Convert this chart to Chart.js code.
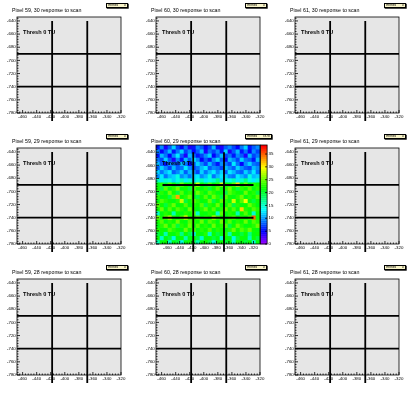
<!DOCTYPE html>
<html>
<head>
<meta charset="utf-8">
<script src="https://cdn.jsdelivr.net/npm/chart.js@4.4.0/dist/chart.umd.min.js"></script>
<style>
body { margin: 0; background: #fff; width: 418px; height: 393px; overflow: hidden; font-family: "Liberation Sans", Arial, sans-serif; }
.pad { position: absolute; width: 139px; height: 131px; }
.pad canvas { position: absolute; left: 0; top: 0; }
.ttl { position: absolute; left: 12px; top: 7px; font-size: 5.3px; white-space: nowrap; color: #000; }
.stat { position: absolute; left: 106px; top: 3px; width: 22px; height: 4.5px; border: 0.7px solid #000; background: #f8f4c8; font-size: 3.2px; line-height: 3.6px; display: flex; justify-content: space-between; padding: 0 1.2px; box-sizing: border-box; box-shadow: 0.7px 0.7px 0 #000; color: #000; }
.thr { position: absolute; left: 23px; top: 29px; font-size: 5.6px; font-weight: bold; white-space: nowrap; color: #000; }
</style>
</head>
<body>
<script>
let padnames = [["Pixel 59, 30", "Pixel 60, 30", "Pixel 61, 30"],
                ["Pixel 59, 29", "Pixel 60, 29", "Pixel 61, 29"],
                ["Pixel 59, 28", "Pixel 60, 28", "Pixel 61, 28"]]
let entries = [[0, 0, 0], [0, 7878, 0], [0, 0, 0]]
let xticks = [-460, -440, -420, -400, -380, -360, -340, -320]
let yticks = [-640, -660, -680, -700, -720, -740, -760, -780]
let zticks = [0, 5, 10, 15, 20, 25, 30, 35]
let xrange = [-468, -320]
let yrange = [-780, -634]
let yrangeheat = [-780, -629]
let zmax = 38.5
let cutx = [-418, -368]
let cuty = [-690, -740]
let cuttop = -640
let cutbottom = -792

// Pixel 60, 29 response, rows from top (-629) to bottom (-780), 26 columns left to right
let heat = [
  [6, 10, 4, 8, 12, 7, 5, 9, 4, 6, 10, 8, 5, 7, 11, 6, 4, 8, 10, 7, 5, 9, 12, 6, 8, 10],
  [10, 5, 8, 11, 6, 9, 12, 7, 10, 5, 8, 11, 4, 9, 7, 10, 6, 12, 4, 8, 11, 6, 9, 5, 10, 7],
  [6, 11, 9, 5, 10, 13, 8, 4, 11, 9, 6, 7, 10, 12, 5, 8, 11, 7, 9, 6, 10, 8, 4, 11, 7, 9],
  [9, 7, 12, 8, 4, 10, 6, 11, 8, 13, 10, 5, 8, 6, 10, 12, 8, 5, 11, 10, 7, 12, 9, 8, 6, 11],
  [11, 8, 6, 10, 9, 7, 11, 9, 5, 8, 12, 10, 7, 11, 8, 6, 10, 9, 7, 13, 9, 5, 10, 12, 9, 8],
  [8, 12, 10, 7, 11, 8, 9, 13, 10, 7, 9, 11, 13, 8, 10, 9, 7, 11, 10, 8, 12, 10, 8, 7, 11, 10],
  [12, 9, 11, 13, 8, 10, 12, 8, 11, 10, 7, 12, 9, 11, 13, 10, 12, 8, 13, 11, 9, 8, 12, 10, 13, 9],
  [10, 13, 9, 11, 12, 14, 10, 11, 9, 12, 13, 10, 11, 14, 9, 11, 13, 12, 10, 9, 13, 11, 10, 14, 11, 12],
  [16, 13, 15, 14, 12, 14, 16, 13, 15, 12, 14, 16, 13, 14, 15, 17, 12, 15, 14, 16, 13, 15, 17, 14, 13, 15],
  [21, 23, 20, 24, 22, 19, 25, 22, 21, 23, 28, 22, 20, 24, 21, 23, 28, 22, 21, 24, 31, 22, 25, 21, 23, 22],
  [22, 20, 24, 21, 23, 25, 21, 22, 20, 24, 22, 21, 23, 20, 22, 24, 21, 23, 25, 22, 20, 23, 22, 24, 21, 23],
  [20, 23, 21, 25, 22, 20, 24, 21, 23, 22, 25, 23, 21, 24, 23, 21, 22, 20, 24, 23, 22, 21, 25, 22, 23, 20],
  [23, 21, 22, 20, 24, 33, 22, 23, 25, 21, 20, 22, 24, 21, 25, 23, 20, 24, 22, 21, 23, 25, 21, 23, 22, 24],
  [21, 24, 23, 22, 21, 23, 28, 20, 22, 24, 23, 21, 22, 25, 20, 22, 24, 23, 21, 28, 22, 24, 30, 21, 20, 22],
  [24, 22, 20, 23, 25, 21, 22, 24, 21, 23, 22, 24, 20, 23, 22, 25, 21, 22, 24, 20, 23, 21, 22, 25, 23, 21],
  [22, 25, 21, 24, 22, 24, 23, 21, 25, 22, 21, 23, 25, 22, 24, 21, 23, 25, 22, 24, 21, 31, 23, 22, 24, 23],
  [15, 21, 23, 22, 16, 22, 21, 23, 22, 24, 15, 22, 21, 23, 22, 15, 24, 21, 23, 22, 16, 22, 24, 21, 15, 22],
  [25, 22, 24, 28, 23, 21, 24, 30, 23, 22, 24, 21, 23, 22, 28, 24, 22, 21, 23, 24, 22, 23, 21, 24, 35, 22],
  [22, 24, 21, 23, 22, 25, 22, 21, 24, 23, 22, 25, 21, 24, 23, 21, 25, 22, 24, 21, 23, 22, 25, 21, 24, 23],
  [21, 23, 25, 22, 24, 20, 23, 22, 25, 21, 24, 22, 23, 21, 25, 22, 23, 24, 20, 22, 25, 23, 21, 22, 23, 25],
  [23, 22, 21, 24, 23, 22, 21, 25, 22, 24, 21, 23, 22, 24, 21, 23, 22, 21, 23, 25, 22, 24, 23, 25, 22, 21],
  [20, 21, 16, 22, 21, 23, 17, 22, 20, 14, 22, 21, 23, 15, 22, 20, 21, 23, 16, 22, 21, 20, 22, 17, 21, 22],
  [22, 15, 21, 20, 14, 21, 22, 16, 21, 22, 20, 15, 21, 22, 20, 21, 15, 22, 21, 14, 20, 22, 21, 16, 22, 20],
  [16, 21, 22, 15, 21, 20, 14, 21, 22, 20, 16, 21, 22, 20, 14, 21, 22, 20, 21, 15, 22, 21, 20, 22, 15, 21]
]

function palcolor(v) {
    if (v <= 0) return "rgba(0,0,0,0)"
    let idx = Math.min(49, Math.floor(v / zmax * 50))
    let hue = 280 - (idx + 1) * 5.6
    return "hsl(" + hue + ",100%,50%)"
}

let tickfont = { family: "'Liberation Sans', Arial, sans-serif", size: 4.4 }

let frameplugin = {
    id: "frame",
    beforeDraw(chart) {
        let a = chart.chartArea, c = chart.ctx
        c.save()
        c.fillStyle = "#e6e6e6"
        c.fillRect(a.left, a.top, a.right - a.left, a.bottom - a.top)
        c.restore()
    },
    afterDraw(chart) {
        let a = chart.chartArea, c = chart.ctx
        let sx = chart.scales.x, sy = chart.scales.y
        c.save()
        c.strokeStyle = "#000"
        c.lineWidth = 0.8
        c.strokeRect(a.left, a.top, a.right - a.left, a.bottom - a.top)
        c.beginPath()
        // ticks drawn inside the frame, 5 subdivisions
        for (let i = 0; i < xticks.length; i++) {
            let px = sx.getPixelForValue(xticks[i])
            c.moveTo(px, a.bottom); c.lineTo(px, a.bottom - 3)
            for (let k = 1; k < 5; k++) {
                let v = xticks[i] - k * 4
                if (v < xrange[0]) continue
                let p = sx.getPixelForValue(v)
                c.moveTo(p, a.bottom); c.lineTo(p, a.bottom - 1.5)
            }
        }
        for (let i = 0; i < yticks.length; i++) {
            let py = sy.getPixelForValue(yticks[i])
            c.moveTo(a.left, py); c.lineTo(a.left + 3, py)
            for (let k = 1; k < 5; k++) {
                let v = yticks[i] + k * 4
                if (v > sy.max) continue
                let p = sy.getPixelForValue(v)
                c.moveTo(a.left, p); c.lineTo(a.left + 1.5, p)
            }
        }
        c.stroke()
        let sz = chart.scales.z
        if (sz) {
            let x0 = sz.left + 0.5
            for (let i = 0; i < 50; i++) {
                let t = sz.getPixelForValue(zmax * (i + 1) / 50)
                let b = sz.getPixelForValue(zmax * i / 50)
                c.fillStyle = "hsl(" + (280 - (i + 1) * 5.6) + ",100%,50%)"
                c.fillRect(x0, t, 6.6, b - t + 0.3)
            }
            c.strokeRect(x0, sz.top, 6.6, sz.bottom - sz.top)
            c.beginPath()
            for (let v of zticks) {
                let p = sz.getPixelForValue(v)
                c.moveTo(x0 + 6.6, p); c.lineTo(x0 + 4.6, p)
            }
            c.stroke()
        }
        c.restore()
    }
}

function cutlines() {
    let sets = []
    for (let x of cutx) {
        sets.push({ type: "scatter", showLine: true, xAxisID: "x", yAxisID: "y", data: [{ x: x, y: cuttop }, { x: x, y: cutbottom }],
            borderColor: "#000", borderWidth: 1.8, pointRadius: 0, clip: false, order: 0 })
    }
    for (let y of cuty) {
        sets.push({ type: "scatter", showLine: true, xAxisID: "x", yAxisID: "y", data: [{ x: xrange[0], y: y }, { x: xrange[1], y: y }],
            borderColor: "#000", borderWidth: 1.8, pointRadius: 0, clip: false, order: 0 })
    }
    return sets
}

function makescales(yr, withz) {
    let sc = {
        x: {
            type: "linear", min: xrange[0], max: xrange[1],
            afterBuildTicks: s => { s.ticks = xticks.map(v => ({ value: v })) },
            ticks: { font: tickfont, color: "#000", padding: 1.5, maxRotation: 0, autoSkip: false },
            grid: { display: false, drawTicks: false }, border: { display: false },
            afterFit: s => { s.height = 18 }
        },
        y: {
            type: "linear", min: yr[0], max: yr[1],
            afterBuildTicks: s => { s.ticks = yticks.map(v => ({ value: v })) },
            ticks: { font: tickfont, color: "#000", padding: 1.2, autoSkip: false },
            grid: { display: false, drawTicks: false }, border: { display: false },
            afterFit: s => { s.width = 17 }
        }
    }
    if (withz) {
        sc.z = {
            type: "linear", axis: "y", position: "right", min: 0, max: zmax,
            afterBuildTicks: s => { s.ticks = zticks.map(v => ({ value: v })) },
            ticks: { font: tickfont, color: "#000", padding: 8.5, autoSkip: false },
            grid: { display: false, drawTicks: false }, border: { display: false },
            afterFit: s => { s.width = 18 }
        }
        sc.xc = { type: "category", display: false, offset: true }
    }
    return sc
}

for (let r = 0; r < 3; r++) {
    for (let col = 0; col < 3; col++) {
        let pad = document.createElement("div")
        pad.className = "pad"
        pad.style.left = (col * 139) + "px"
        pad.style.top = (r * 131) + "px"
        let cv = document.createElement("canvas")
        cv.width = 139
        cv.height = 131
        pad.appendChild(cv)
        let t = document.createElement("div")
        t.className = "ttl"
        t.textContent = padnames[r][col] + " response to scan"
        pad.appendChild(t)
        let st = document.createElement("div")
        st.className = "stat"
        st.innerHTML = "<span>Entries</span><span>" + entries[r][col] + "</span>"
        pad.appendChild(st)
        let th = document.createElement("div")
        th.className = "thr"
        th.textContent = "Thresh 0 TU"
        pad.appendChild(th)
        document.body.appendChild(pad)

        let isheat = (r == 1 && col == 1)
        let ctx = cv.getContext("2d")
        if (isheat) {
            let nrows = heat.length
            let bh = (yrangeheat[1] - yrangeheat[0]) / nrows
            let labels = heat[0].map((v, i) => "c" + i)
            let sets = cutlines()
            for (let i = 0; i < nrows; i++) {
                let hi = yrangeheat[1] - i * bh, lo = hi - bh
                sets.push({ type: "bar", xAxisID: "xc", yAxisID: "y", grouped: false, order: 1,
                    data: heat[i].map(() => [lo, hi]), backgroundColor: heat[i].map(palcolor),
                    barPercentage: 1, categoryPercentage: 1, borderWidth: 0 })
            }
            st.style.width = "27px"
            new Chart(ctx, {
                type: "bar",
                data: { labels: labels, datasets: sets },
                options: {
                    responsive: false, animation: false, events: [],
                    layout: { padding: { left: 0, top: 14, right: 0, bottom: 0 } },
                    plugins: { legend: { display: false }, tooltip: { enabled: false } },
                    scales: makescales(yrangeheat, true)
                },
                plugins: [frameplugin]
            })
        } else {
            new Chart(ctx, {
                type: "scatter",
                data: { datasets: cutlines() },
                options: {
                    responsive: false, animation: false, events: [],
                    layout: { padding: { left: 0, top: 17, right: 18, bottom: 0 } },
                    plugins: { legend: { display: false }, tooltip: { enabled: false } },
                    scales: makescales(yrange, false)
                },
                plugins: [frameplugin]
            })
        }
    }
}
</script>
</body>
</html>
